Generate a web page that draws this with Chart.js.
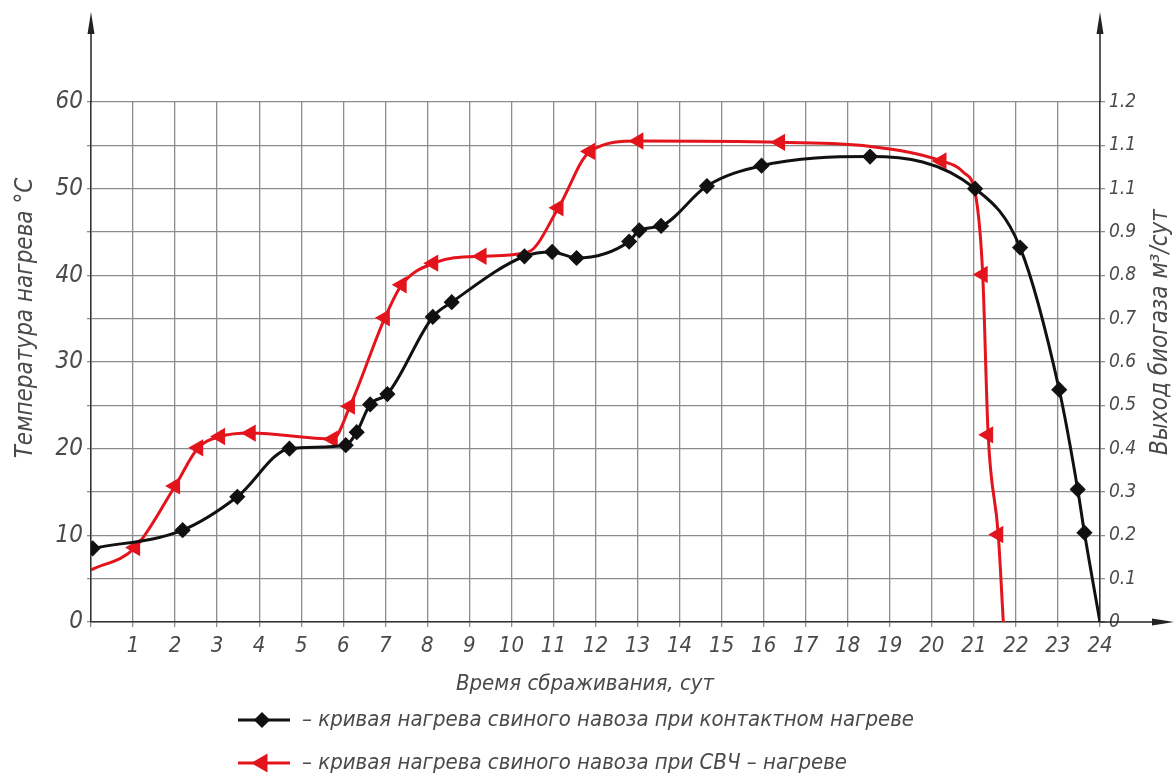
<!DOCTYPE html>
<html>
<head>
<meta charset="utf-8">
<script src="https://cdn.jsdelivr.net/npm/chart.js@4/dist/chart.umd.min.js"></script>
<style>
  body { margin: 0; background: #fff; }
  canvas { display: block; }
</style>
</head>
<body>
<canvas id="chart" width="1176" height="779"></canvas>
<script>
// Black curve - contact heating (x = days, y = °C)
const contactDays = [0.04, 2.18, 3.48, 4.72, 6.06, 6.32, 6.64, 7.05, 8.13, 8.58, 10.31, 10.97, 11.55, 12.8, 13.04, 13.56, 14.65, 15.95, 18.53, 21.03, 22.1, 23.03, 23.47, 23.63, 24];
const contactTemp = [8.5, 10.6, 14.45, 20.0, 20.4, 21.9, 25.1, 26.3, 35.2, 36.9, 42.2, 42.7, 42.0, 43.9, 45.2, 45.7, 50.3, 52.65, 53.7, 50.0, 43.2, 26.8, 15.3, 10.3, 0];
const contactMarked = [1, 1, 1, 1, 1, 1, 1, 1, 1, 1, 1, 1, 1, 1, 1, 1, 1, 1, 1, 1, 1, 1, 1, 1, 0];

// Red curve - microwave (СВЧ) heating
const microDays = [0, 1.05, 2.0, 2.55, 3.07, 3.8, 5.75, 6.16, 6.99, 7.39, 8.14, 9.29, 10.4, 11.12, 11.87, 13.02, 16.39, 18.5, 20.23, 20.75, 21.05, 21.21, 21.34, 21.58, 21.7];
const microTemp = [6.0, 8.6, 15.7, 20.1, 21.4, 21.8, 21.1, 24.9, 35.1, 38.9, 41.4, 42.2, 42.7, 47.8, 54.3, 55.5, 55.35, 54.9, 53.2, 51.9, 49.0, 40.1, 21.6, 10.1, 0];
const microMarked = [0, 1, 1, 1, 1, 1, 1, 1, 1, 1, 1, 1, 0, 1, 1, 1, 1, 0, 1, 0, 0, 1, 1, 1, 0];

// right axis labels as printed (bottom to top)
const biogasLabels = ['0', '0.1', '0.2', '0.3', '0.4', '0.5', '0.6', '0.7', '0.8', '0.9', '1.1', '1.1', '1.2'];

const legendLabels = [
  '– кривая нагрева свиного навоза при контактном нагреве',
  '– кривая нагрева свиного навоза при СВЧ – нагреве'
];
const titleX = 'Время сбраживания, сут';
const titleY = 'Температура нагрева °С';
const titleY2 = 'Выход биогаза м³/сут';

const FONT = "'Liberation Sans Narrow', 'DejaVu Sans Condensed', 'DejaVu Sans', sans-serif";
const TEXT = '#4a4a4a';
const GRID = '#8c8c8c';
const RED = '#e3141c';
const BLACK = '#111';

const toPoints = (xs, ys) => xs.map((x, i) => ({ x: x, y: ys[i] }));

// axis arrows, rotated axis titles and the legend
const extras = {
  id: 'extras',
  afterDraw(chart) {
    const ctx = chart.ctx;
    const a = chart.chartArea;
    ctx.save();
    ctx.strokeStyle = '#222';
    ctx.fillStyle = '#222';
    ctx.lineWidth = 1.5;

    function arrowUp(x) {
      ctx.beginPath();
      ctx.moveTo(x, a.top);
      ctx.lineTo(x, 20);
      ctx.stroke();
      ctx.beginPath();
      ctx.moveTo(x, 12);
      ctx.lineTo(x - 3.5, 34);
      ctx.lineTo(x + 3.5, 34);
      ctx.closePath();
      ctx.fill();
    }
    arrowUp(a.left);
    arrowUp(a.right);
    ctx.beginPath();
    ctx.moveTo(a.right, a.bottom);
    ctx.lineTo(1165, a.bottom);
    ctx.stroke();
    ctx.beginPath();
    ctx.moveTo(1174, a.bottom);
    ctx.lineTo(1152, a.bottom - 3.5);
    ctx.lineTo(1152, a.bottom + 3.5);
    ctx.closePath();
    ctx.fill();

    // titles
    ctx.fillStyle = TEXT;
    ctx.font = 'italic 22px ' + FONT;
    ctx.textAlign = 'center';
    ctx.textBaseline = 'middle';
    ctx.fillText(titleX, 585, 684);

    ctx.save();
    ctx.font = 'italic 24px ' + FONT;
    ctx.translate(26, 318);
    ctx.rotate(-Math.PI / 2);
    ctx.fillText(titleY, 0, 0);
    ctx.restore();

    ctx.save();
    ctx.font = 'italic 24px ' + FONT;
    ctx.translate(1161, 332);
    ctx.rotate(-Math.PI / 2);
    ctx.fillText(titleY2, 0, 0);
    ctx.restore();

    // legend
    const rows = [
      { y: 720, color: BLACK, style: 'rectRot', rot: 0, r: 6 },
      { y: 763, color: RED, style: 'triangle', rot: -90, r: 8 }
    ];
    rows.forEach((row, i) => {
      ctx.strokeStyle = row.color;
      ctx.fillStyle = row.color;
      ctx.lineWidth = 3;
      ctx.beginPath();
      ctx.moveTo(238, row.y);
      ctx.lineTo(290, row.y);
      ctx.stroke();
      Chart.helpers.drawPoint(ctx, { pointStyle: row.style, rotation: row.rot, radius: row.r, borderWidth: 1 }, 262, row.y);
      ctx.fillStyle = TEXT;
      ctx.textAlign = 'left';
      ctx.font = 'italic 22px ' + FONT;
      ctx.fillText(legendLabels[i], 302, row.y);
    });
    ctx.restore();
  }
};

new Chart(document.getElementById('chart'), {
  type: 'line',
  data: {
    datasets: [
      {
        label: legendLabels[0],
        data: toPoints(contactDays, contactTemp),
        borderColor: BLACK,
        backgroundColor: BLACK,
        borderWidth: 3,
        pointStyle: 'rectRot',
        pointRadius: c => contactMarked[c.dataIndex] ? 6 : 0,
        cubicInterpolationMode: 'monotone',
        yAxisID: 'y'
      },
      {
        label: legendLabels[1],
        data: toPoints(microDays, microTemp),
        borderColor: RED,
        backgroundColor: RED,
        borderWidth: 3,
        pointStyle: 'triangle',
        pointRotation: -90,
        pointRadius: c => microMarked[c.dataIndex] ? 7 : 0,
        cubicInterpolationMode: 'monotone',
        yAxisID: 'y'
      }
    ]
  },
  options: {
    responsive: false,
    animation: false,
    layout: { padding: { top: 102, left: 0, right: 0, bottom: 0 } },
    plugins: { legend: { display: false }, tooltip: { enabled: false } },
    scales: {
      x: {
        type: 'linear',
        min: 0,
        max: 24,
        afterFit: s => { s.height = 157; },
        ticks: {
          stepSize: 1,
          autoSkip: false,
          maxRotation: 0,
          padding: 6,
          color: TEXT,
          font: { family: FONT, size: 22, style: 'italic' },
          callback: v => v === 0 ? '' : v
        },
        grid: { color: GRID, lineWidth: 1.3, tickLength: 5 },
        border: { color: '#333', width: 1.5 }
      },
      y: {
        position: 'left',
        min: 0,
        max: 60,
        afterFit: s => { s.width = 91; },
        ticks: {
          stepSize: 5,
          padding: 4,
          color: TEXT,
          font: { family: FONT, size: 24, style: 'italic' },
          callback: v => v % 10 === 0 ? v : ''
        },
        grid: { color: GRID, lineWidth: 1.3, tickLength: 4 },
        border: { color: '#333', width: 1.5 }
      },
      y2: {
        position: 'right',
        min: 0,
        max: 1.2,
        afterFit: s => { s.width = 76; },
        ticks: {
          stepSize: 0.1,
          padding: 4,
          color: TEXT,
          font: { family: FONT, size: 19, style: 'italic' },
          callback: (v, i) => biogasLabels[i]
        },
        grid: { drawOnChartArea: false, color: GRID, lineWidth: 1.3, tickLength: 5 },
        border: { color: '#333', width: 1.5 }
      }
    }
  },
  plugins: [extras]
});
</script>
</body>
</html>
